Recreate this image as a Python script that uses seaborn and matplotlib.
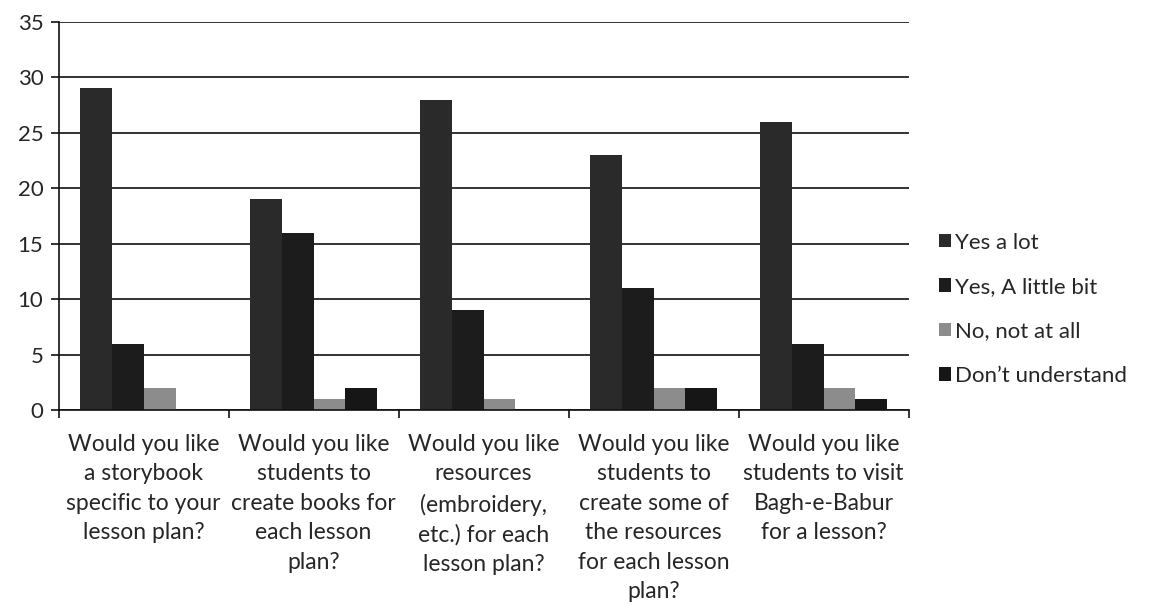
import pandas as pd
import matplotlib.pyplot as plt
import seaborn as sns
from matplotlib.ticker import FixedLocator

questions = [
    "Would you like\na storybook\nspecific to your\nlesson plan?",
    "Would you like\nstudents to\ncreate books for\neach lesson\nplan?",
    "Would you like\nresources\n(embroidery,\netc.) for each\nlesson plan?",
    "Would you like\nstudents to\ncreate some of\nthe resources\nfor each lesson\nplan?",
    "Would you like\nstudents to visit\nBagh-e-Babur\nfor a lesson?",
]
answers = ["Yes a lot", "Yes, A little bit", "No, not at all", "Don\u2019t understand"]
yes_a_lot = [29, 19, 28, 23, 26]
yes_little = [6, 16, 9, 11, 6]
no_not_at_all = [2, 1, 1, 2, 2]
dont_understand = [0, 2, 0, 2, 1]

colors = ["#2a2a2a", "#1c1c1c", "#8c8c8c", "#161616"]

rows = []
for ans, vals in zip(answers, [yes_a_lot, yes_little, no_not_at_all, dont_understand]):
    for q, v in zip(questions, vals):
        rows.append({"question": q, "answer": ans, "count": v})
df = pd.DataFrame(rows)

sns.set_style("white")
plt.rcParams["font.family"] = ["Lato", "DejaVu Sans"]

fig = plt.figure(figsize=(11.5, 6.06), dpi=100)
ax = fig.add_axes([0.051, 0.323, 0.739, 0.641])

sns.barplot(data=df, x="question", y="count", hue="answer", hue_order=answers,
            order=questions, palette=colors, width=0.75, saturation=1,
            edgecolor="none", ax=ax)

ax.set_ylim(0, 35)
ax.set_xlim(-0.5, 4.5)
ax.set_yticks(range(0, 36, 5))
ax.yaxis.grid(True, color="#111111", linewidth=1.2)
ax.set_axisbelow(True)
for s in ["top", "right"]:
    ax.spines[s].set_visible(False)
for s in ["left", "bottom"]:
    ax.spines[s].set_color("#111111")
    ax.spines[s].set_linewidth(1.2)

ax.tick_params(axis="y", length=6, width=1.2, color="#111111", labelsize=16, pad=5, direction="out", left=True)
ax.tick_params(axis="x", which="major", length=0, labelsize=16.5, pad=17)
ax.xaxis.set_minor_locator(FixedLocator([-0.5, 0.5, 1.5, 2.5, 3.5, 4.5]))
ax.tick_params(axis="x", which="minor", length=6, width=1.2, color="#111111", direction="out", bottom=True)
for lbl in ax.get_xticklabels():
    lbl.set_linespacing(1.5)
    lbl.set_ha("center")
ax.set_xlabel("")
ax.set_ylabel("")

ax.legend(loc="center left", bbox_to_anchor=(1.012, 0.26), frameon=False,
          fontsize=16, handlelength=0.55, handleheight=0.55, handletextpad=0.2,
          labelspacing=1.1)

fig.savefig("out.png", dpi=100)
